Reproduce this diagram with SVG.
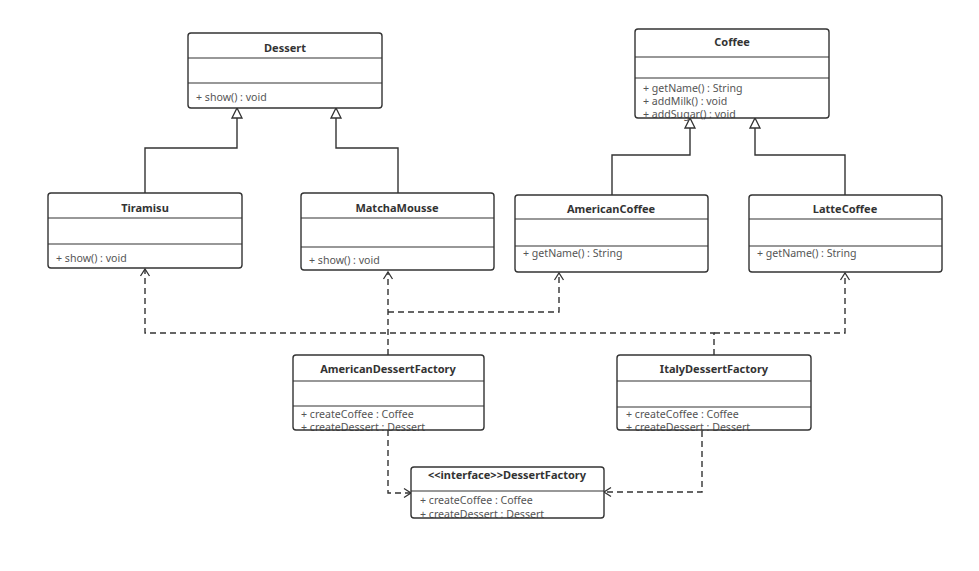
<svg xmlns="http://www.w3.org/2000/svg" width="979" height="571" viewBox="0 0 979 571">
<style>
.bg{fill:#ffffff;stroke:none}
.bd{fill:none;stroke:#333333;stroke-width:1.4}
.sep{stroke:#333333;stroke-width:1.2}
.t{font-family:"Noto Sans","Open Sans",sans-serif;font-size:11px;font-weight:bold;fill:#333333;text-anchor:middle}
.m{font-family:"Noto Sans","Open Sans",sans-serif;font-size:10.6px;fill:#555555}
.inh{fill:none;stroke:#333333;stroke-width:1.4}
.dep{fill:none;stroke:#333333;stroke-width:1.4;stroke-dasharray:6 4}
</style>
<defs>
<marker id="tri" markerUnits="userSpaceOnUse" markerWidth="14" markerHeight="14" refX="11" refY="6" orient="auto">
<path d="M1,1 L11,6 L1,11 Z" fill="#ffffff" stroke="#333333" stroke-width="1.3"/>
</marker>
<marker id="open" markerUnits="userSpaceOnUse" markerWidth="14" markerHeight="14" refX="9" refY="6" orient="auto">
<path d="M2,1.5 L9,6 L2,10.5" fill="none" stroke="#333333" stroke-width="1.3"/>
</marker>
</defs>
<rect width="979" height="571" fill="#ffffff"/>

<g id="connectors">
<polyline class="inh" points="145,193 145,148 237,148 237,108" marker-end="url(#tri)"/>
<polyline class="inh" points="398,193 398,148 336,148 336,108" marker-end="url(#tri)"/>
<polyline class="inh" points="612,195 612,155 690,155 690,118" marker-end="url(#tri)"/>
<polyline class="inh" points="845,195 845,155 755,155 755,118" marker-end="url(#tri)"/>
<polyline class="dep" points="388,355 388,272" marker-end="url(#open)"/>
<polyline class="dep" points="388,312 559,312 559,273" marker-end="url(#open)"/>
<polyline class="dep" points="714,355 714,333 145,333 145,269" marker-end="url(#open)"/>
<polyline class="dep" points="714,333 845,333 845,273" marker-end="url(#open)"/>
<polyline class="dep" points="388,430 388,493 411,493" marker-end="url(#open)"/>
<polyline class="dep" points="702,431 702,492 604,492" marker-end="url(#open)"/>
</g>

<g id="Dessert">
<rect class="bg" x="188" y="33" width="194" height="75" rx="3"/>
<line class="sep" x1="188" y1="58" x2="382" y2="58"/>
<line class="sep" x1="188" y1="83" x2="382" y2="83"/>
<text class="t" x="285" y="52">Dessert</text>
<text class="m" x="196" y="101">+ show() : void</text>
<rect class="bd" x="188" y="33" width="194" height="75" rx="3"/>
</g>

<g id="Coffee">
<rect class="bg" x="635" y="29" width="194" height="89" rx="3"/>
<line class="sep" x1="635" y1="57" x2="829" y2="57"/>
<line class="sep" x1="635" y1="78" x2="829" y2="78"/>
<text class="t" x="732" y="46">Coffee</text>
<text class="m" x="643" y="92">+ getName() : String</text>
<text class="m" x="643" y="105">+ addMilk() : void</text>
<text class="m" x="643" y="118">+ addSugar() : void</text>
<rect class="bd" x="635" y="29" width="194" height="89" rx="3"/>
</g>

<g id="Tiramisu">
<rect class="bg" x="48" y="193" width="194" height="75" rx="3"/>
<line class="sep" x1="48" y1="218" x2="242" y2="218"/>
<line class="sep" x1="48" y1="244" x2="242" y2="244"/>
<text class="t" x="145" y="212">Tiramisu</text>
<text class="m" x="56" y="262">+ show() : void</text>
<rect class="bd" x="48" y="193" width="194" height="75" rx="3"/>
</g>

<g id="MatchaMousse">
<rect class="bg" x="301" y="193" width="193" height="77" rx="3"/>
<line class="sep" x1="301" y1="218" x2="494" y2="218"/>
<line class="sep" x1="301" y1="247" x2="494" y2="247"/>
<text class="t" x="397" y="212">MatchaMousse</text>
<text class="m" x="309" y="264">+ show() : void</text>
<rect class="bd" x="301" y="193" width="193" height="77" rx="3"/>
</g>

<g id="AmericanCoffee">
<rect class="bg" x="515" y="195" width="193" height="77" rx="3"/>
<line class="sep" x1="515" y1="219" x2="708" y2="219"/>
<line class="sep" x1="515" y1="246" x2="708" y2="246"/>
<text class="t" x="611" y="213">AmericanCoffee</text>
<text class="m" x="523" y="257">+ getName() : String</text>
<rect class="bd" x="515" y="195" width="193" height="77" rx="3"/>
</g>

<g id="LatteCoffee">
<rect class="bg" x="749" y="195" width="193" height="77" rx="3"/>
<line class="sep" x1="749" y1="219" x2="942" y2="219"/>
<line class="sep" x1="749" y1="246" x2="942" y2="246"/>
<text class="t" x="845" y="213">LatteCoffee</text>
<text class="m" x="757" y="257">+ getName() : String</text>
<rect class="bd" x="749" y="195" width="193" height="77" rx="3"/>
</g>

<g id="AmericanDessertFactory">
<rect class="bg" x="293" y="355" width="191" height="75" rx="3"/>
<line class="sep" x1="293" y1="381" x2="484" y2="381"/>
<line class="sep" x1="293" y1="406" x2="484" y2="406"/>
<text class="t" x="388" y="373">AmericanDessertFactory</text>
<text class="m" x="301" y="418">+ createCoffee : Coffee</text>
<text class="m" x="301" y="431">+ createDessert : Dessert</text>
<rect class="bd" x="293" y="355" width="191" height="75" rx="3"/>
</g>

<g id="ItalyDessertFactory">
<rect class="bg" x="617" y="355" width="194" height="75" rx="3"/>
<line class="sep" x1="617" y1="381" x2="811" y2="381"/>
<line class="sep" x1="617" y1="407" x2="811" y2="407"/>
<text class="t" x="714" y="373">ItalyDessertFactory</text>
<text class="m" x="626" y="418">+ createCoffee : Coffee</text>
<text class="m" x="626" y="431">+ createDessert : Dessert</text>
<rect class="bd" x="617" y="355" width="194" height="75" rx="3"/>
</g>

<g id="DessertFactory">
<rect class="bg" x="411" y="467" width="193" height="51" rx="3"/>
<line class="sep" x1="411" y1="491" x2="604" y2="491"/>
<text class="t" x="507" y="479">&lt;&lt;interface&gt;&gt;DessertFactory</text>
<text class="m" x="420" y="504">+ createCoffee : Coffee</text>
<text class="m" x="420" y="518">+ createDessert : Dessert</text>
<rect class="bd" x="411" y="467" width="193" height="51" rx="3"/>
</g>
</svg>
